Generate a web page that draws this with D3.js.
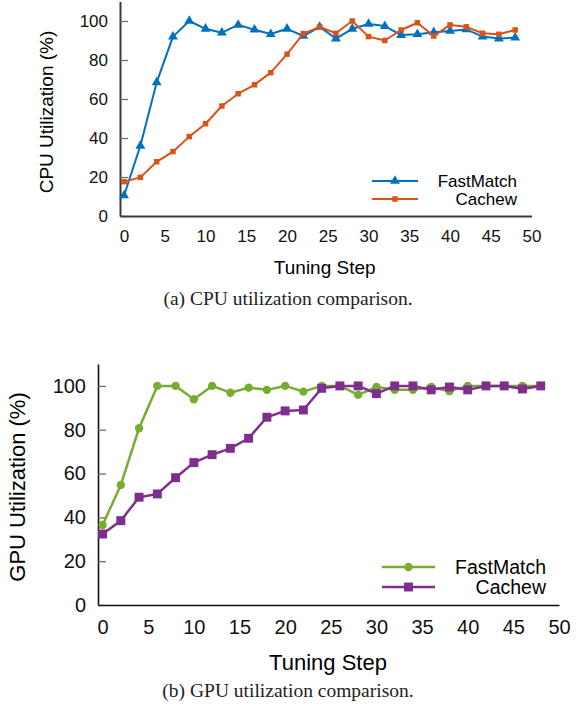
<!DOCTYPE html>
<html>
<head>
<meta charset="utf-8">
<script src="https://cdn.jsdelivr.net/npm/d3@7"></script>
<style>
  body { margin: 0; background: white; }
  text { font-family: "Liberation Sans", Arial, Helvetica, sans-serif; }
</style>
</head>
<body>
<script>
// Data
const steps = d3.range(0, 49, 2)
const cpuFastMatch = [10.5, 36, 68.5, 92, 100, 96, 94, 98, 95.5, 93.3, 96, 92.3, 97,
  91, 96, 98.5, 97.4, 92.8, 93.2, 94.2, 94.9, 95.7, 92, 91, 91.5]
const cpuCachew = [17.6, 19.8, 27.8, 33, 40.7, 47.3, 56.4, 62.7, 67.3, 73.5, 83, 93.5, 97,
  93.7, 100, 92, 90, 95.4, 99.1, 92.3, 98, 97, 93.7, 93.2, 95.4]
const gpuFastMatch = [36.5, 54.8, 80.7, 100, 100, 93.9, 100, 96.9, 99.2, 98.2, 100, 97.4, 100,
  100, 95.9, 99.5, 98.2, 98.2, 99.5, 97.6, 100, 100, 100, 100, 100]
const gpuCachew = [32.4, 38.5, 49.2, 50.7, 58.1, 65, 68.6, 71.5, 76.1, 85.7, 88.6, 89, 98.9,
  100, 100, 96.5, 100, 100, 98.2, 99.5, 98.2, 100, 100, 98.6, 100]
const xTicks = [0, 5, 10, 15, 20, 25, 30, 35, 40, 45, 50]
const yTicks = [0, 20, 40, 60, 80, 100]
const seriesNames = ['FastMatch', 'Cachew']

const svg = d3.select('body').append('svg')
    .attr('width', 576)
    .attr('height', 713)

function drawPanel(cfg) {
  const x = d3.scaleLinear().domain([-0.5, 50]).range([cfg.left, cfg.right])
  const y = d3.scaleLinear().domain([0, 110]).range([cfg.bottom, cfg.top])
  const g = svg.append('g')

  // y axis, ticks inward
  const yAxis = g.append('g')
      .attr('transform', `translate(${cfg.left},0)`)
      .call(d3.axisLeft(y).tickValues(yTicks).tickSize(-8).tickSizeOuter(0).tickPadding(cfg.yPad))
  yAxis.select('.domain').attr('stroke', cfg.axisColor).attr('stroke-width', cfg.axisWidth)
  yAxis.selectAll('.tick line').attr('stroke', '#666').attr('stroke-width', 1.2)
  yAxis.selectAll('text').style('font-size', cfg.tickFont + 'px').attr('fill', '#111')

  // x axis, no ticks
  const xAxis = g.append('g')
      .attr('transform', `translate(0,${cfg.bottom})`)
      .call(d3.axisBottom(x).tickValues(xTicks).tickSize(0).tickPadding(cfg.xPad))
  xAxis.select('.domain').attr('stroke', cfg.axisColor).attr('stroke-width', cfg.axisWidth)
  xAxis.selectAll('text').style('font-size', cfg.tickFont + 'px').attr('fill', '#111')

  // axis titles
  g.append('text')
      .attr('x', (cfg.left + cfg.right) / 2 + cfg.xTitleShift)
      .attr('y', cfg.xTitleY)
      .attr('text-anchor', 'middle')
      .style('font-size', cfg.titleFont + 'px')
      .text('Tuning Step')
  g.append('text')
      .attr('transform', `translate(${cfg.yTitleX},${cfg.yTitleY}) rotate(-90)`)
      .attr('text-anchor', 'middle')
      .style('font-size', cfg.titleFont + 'px')
      .text(cfg.yTitle)

  const line = d3.line().x((d, i) => x(steps[i])).y(d => y(d))

  cfg.series.forEach((s, k) => {
    g.append('path')
        .datum(s.values)
        .attr('fill', 'none')
        .attr('stroke', s.color)
        .attr('stroke-width', cfg.lineWidth)
        .attr('stroke-linejoin', 'round')
        .attr('d', line)
    g.selectAll('.m' + k)
        .data(s.values)
        .enter().append('path')
        .attr('transform', (d, i) => `translate(${x(steps[i])},${y(d)})`)
        .attr('d', d3.symbol().type(s.symbol).size(s.size))
        .attr('fill', s.color)

    // legend
    const ly = cfg.legendY[k]
    g.append('line')
        .attr('x1', cfg.legendX[0]).attr('x2', cfg.legendX[1])
        .attr('y1', ly).attr('y2', ly)
        .attr('stroke', s.color)
        .attr('stroke-width', cfg.lineWidth)
    g.append('path')
        .attr('transform', `translate(${(cfg.legendX[0] + cfg.legendX[1]) / 2},${ly})`)
        .attr('d', d3.symbol().type(s.symbol).size(s.size))
        .attr('fill', s.color)
    g.append('text')
        .attr('x', cfg.legendTextX)
        .attr('y', ly)
        .attr('dy', '0.35em')
        .attr('text-anchor', 'end')
        .style('font-size', cfg.legendFont + 'px')
        .text(seriesNames[k])
  })

  // caption
  g.append('text')
      .attr('x', 288)
      .attr('y', cfg.captionY)
      .attr('text-anchor', 'middle')
      .style('font-family', '"Liberation Serif", "Times New Roman", serif')
      .style('font-size', '19.5px')
      .attr('fill', '#222')
      .text(cfg.caption)
}

// (a) CPU
drawPanel({
  left: 120, right: 531.5, top: 1.5, bottom: 216,
  axisColor: '#3a3a3a', axisWidth: 2,
  tickFont: 17, titleFont: 19, legendFont: 17, lineWidth: 2,
  yPad: 12, xPad: 14,
  xTitleShift: -1, xTitleY: 274,
  yTitleX: 53, yTitleY: 112,
  yTitle: 'CPU Utilization (%)',
  legendX: [372, 418], legendY: [181, 199], legendTextX: 517,
  captionY: 305,
  caption: '(a) CPU utilization comparison.',
  series: [
    { values: cpuFastMatch, color: '#0072BD', symbol: d3.symbolTriangle, size: 42 },
    { values: cpuCachew, color: '#D95319', symbol: d3.symbolSquare, size: 30 }
  ]
})

// (b) GPU
drawPanel({
  left: 98, right: 559, top: 364, bottom: 605,
  axisColor: '#111', axisWidth: 1.6,
  tickFont: 20, titleFont: 22, legendFont: 19.5, lineWidth: 2.5,
  yPad: 12, xPad: 15,
  xTitleShift: -0.5, xTitleY: 670,
  yTitleX: 25, yTitleY: 487,
  yTitle: 'GPU Utilization (%)',
  legendX: [382, 435], legendY: [567, 587], legendTextX: 546,
  captionY: 697,
  caption: '(b) GPU utilization comparison.',
  series: [
    { values: gpuFastMatch, color: '#77AC30', symbol: d3.symbolCircle, size: 55 },
    { values: gpuCachew, color: '#7E2F8E', symbol: d3.symbolSquare, size: 80 }
  ]
})
</script>
</body>
</html>
